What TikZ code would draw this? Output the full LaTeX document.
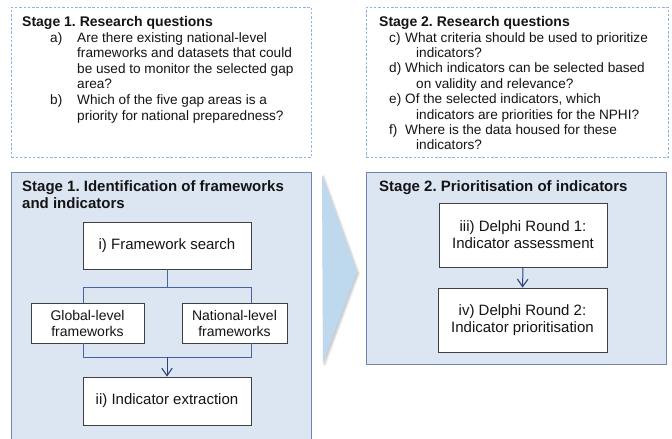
\documentclass[tikz,border=0pt]{standalone}
\usepackage{fontspec}
\setmainfont{Liberation Sans}
\frenchspacing
\usetikzlibrary{arrows.meta,shadows.blur}
\definecolor{bigfill}{RGB}{220,230,242}
\definecolor{bigdraw}{RGB}{112,134,176}
\definecolor{dashdraw}{RGB}{142,180,227}
\definecolor{innerdraw}{RGB}{64,64,64}
\definecolor{conn}{RGB}{72,100,160}
\definecolor{arrowc}{RGB}{44,68,122}
\definecolor{chev}{RGB}{190,216,238}
\definecolor{txt}{RGB}{20,20,20}
\begin{document}
\begin{tikzpicture}[x=1pt,y=-1pt,
  qbox/.style={draw=dashdraw, dash pattern=on 2.5pt off 1.8pt, line width=0.7pt, fill=white, anchor=north west, inner sep=0pt},
  bigbox/.style={draw=bigdraw, line width=0.8pt, fill=bigfill, anchor=north west, inner sep=0pt},
  inbox/.style={draw=innerdraw, line width=0.8pt, fill=white, align=center, inner sep=0pt, text=txt},
  conline/.style={draw=conn, line width=0.9pt},
  arr/.style={draw=arrowc, line width=1pt, -{Straight Barb[length=7.5pt,width=10.5pt,line width=1.1pt]}},
  body/.style={anchor=base west, inner sep=0pt, align=left, text=txt, font=\fontsize{13.6}{15.5}\selectfont},
  ttl/.style={anchor=base west, inner sep=0pt, align=left, text=txt, font=\bfseries\fontsize{14}{16}\selectfont},
  bttl/.style={anchor=base west, inner sep=0pt, align=left, text=txt, font=\bfseries\fontsize{15}{17}\selectfont}
]
\useasboundingbox (0,0) rectangle (672,439);
\begin{scope}
\clip (0,0) rectangle (672,439);
% research-question boxes
\node[qbox, minimum width=300pt, minimum height=150pt] (q1) at (11,7) {};
\node[qbox, minimum width=302pt, minimum height=150pt] (q2) at (366,7) {};
% stage boxes
\node[bigbox, minimum width=300pt, minimum height=290pt] (s1) at (11,172) {};
\node[bigbox, minimum width=300pt, minimum height=192pt] (s2) at (366,172) {};
\end{scope}
% chevron
\fill[chev, blur shadow={shadow xshift=1.5pt, shadow yshift=-1.5pt, shadow blur steps=6, shadow opacity=25}]
  (322,175) -- (357,272) -- (323,363) -- cycle;

% Stage 1 research questions (multi-line nodes are placed by their last baseline)
\node[ttl] (t1) at (22,27) {Stage 1. Research questions};
\node[body] (la) at (50,42) {a)};
\node[body] (ta) at (77,88.5) {Are there existing national-level\\frameworks and datasets that could\\be used to monitor the selected gap\\area?};
\node[body] (lb) at (50,104.5) {b)};
\node[body] (tb) at (77,120) {Which of the five gap areas is a\\priority for national preparedness?};

% Stage 2 research questions
\node[ttl] (t2) at (379,27) {Stage 2. Research questions};
\node[body] (lc) at (389,42) {c)};
\node[body] (tc) at (405,57.5) {What criteria should be used to prioritize\\\hspace*{11pt}indicators?};
\node[body] (ld) at (389,72.8) {d)};
\node[body] (td) at (405,88.3) {Which indicators can be selected based\\\hspace*{11pt}on validity and relevance?};
\node[body] (le) at (389,103.6) {e)};
\node[body] (te) at (405,119.1) {Of the selected indicators, which\\\hspace*{11pt}indicators are priorities for the NPHI?};
\node[body] (lf) at (389,134.4) {f)};
\node[body] (tf) at (405,149.9) {Where is the data housed for these\\\hspace*{11pt}indicators?};

% Stage titles
\node[bttl] (st1) at (22,208) {Stage 1. Identification of frameworks\\and indicators};
\node[bttl] (st2) at (379,191) {Stage 2. Prioritisation of indicators};

% Stage 1 flow
\node[inbox, minimum width=168pt, minimum height=47pt, font=\fontsize{15}{17}\selectfont] (fs) at (167,245.5) {i) Framework search};
\node[inbox, minimum width=113pt, minimum height=40pt, font=\fontsize{14}{16}\selectfont] (gl) at (87.5,323) {Global-level\\frameworks};
\node[inbox, minimum width=105pt, minimum height=40pt, font=\fontsize{14}{16}\selectfont] (nl) at (234.5,323) {National-level\\frameworks};
\node[inbox, minimum width=168pt, minimum height=48pt, font=\fontsize{15}{17}\selectfont] (ie) at (167,401) {ii) Indicator extraction};

\coordinate (jm) at (167,287);
\coordinate (ja) at (83,287);
\coordinate (jb) at (251,287);
\coordinate (km) at (167,357);
\coordinate (ka) at (83,357);
\coordinate (kb) at (251,357);
\draw[conline] (fs.south) -- (jm);
\draw[conline] (ja |- gl.north) -- (ja) -- (jb) -- (jb |- nl.north);
\draw[conline] (ka |- gl.south) -- (ka) -- (kb) -- (kb |- nl.south);
\draw[arr] (km) -- (ie.north);

% Stage 2 flow
\node[inbox, minimum width=168pt, minimum height=64pt, font=\fontsize{15}{17}\selectfont] (d1) at (523,235) {iii) Delphi Round 1:\\Indicator assessment};
\node[inbox, minimum width=169pt, minimum height=64pt, font=\fontsize{15}{17}\selectfont] (d2) at (522.5,320) {iv) Delphi Round 2:\\Indicator prioritisation};
\draw[arr] (d1.south) -- (d2.north);
\end{tikzpicture}
\end{document}
